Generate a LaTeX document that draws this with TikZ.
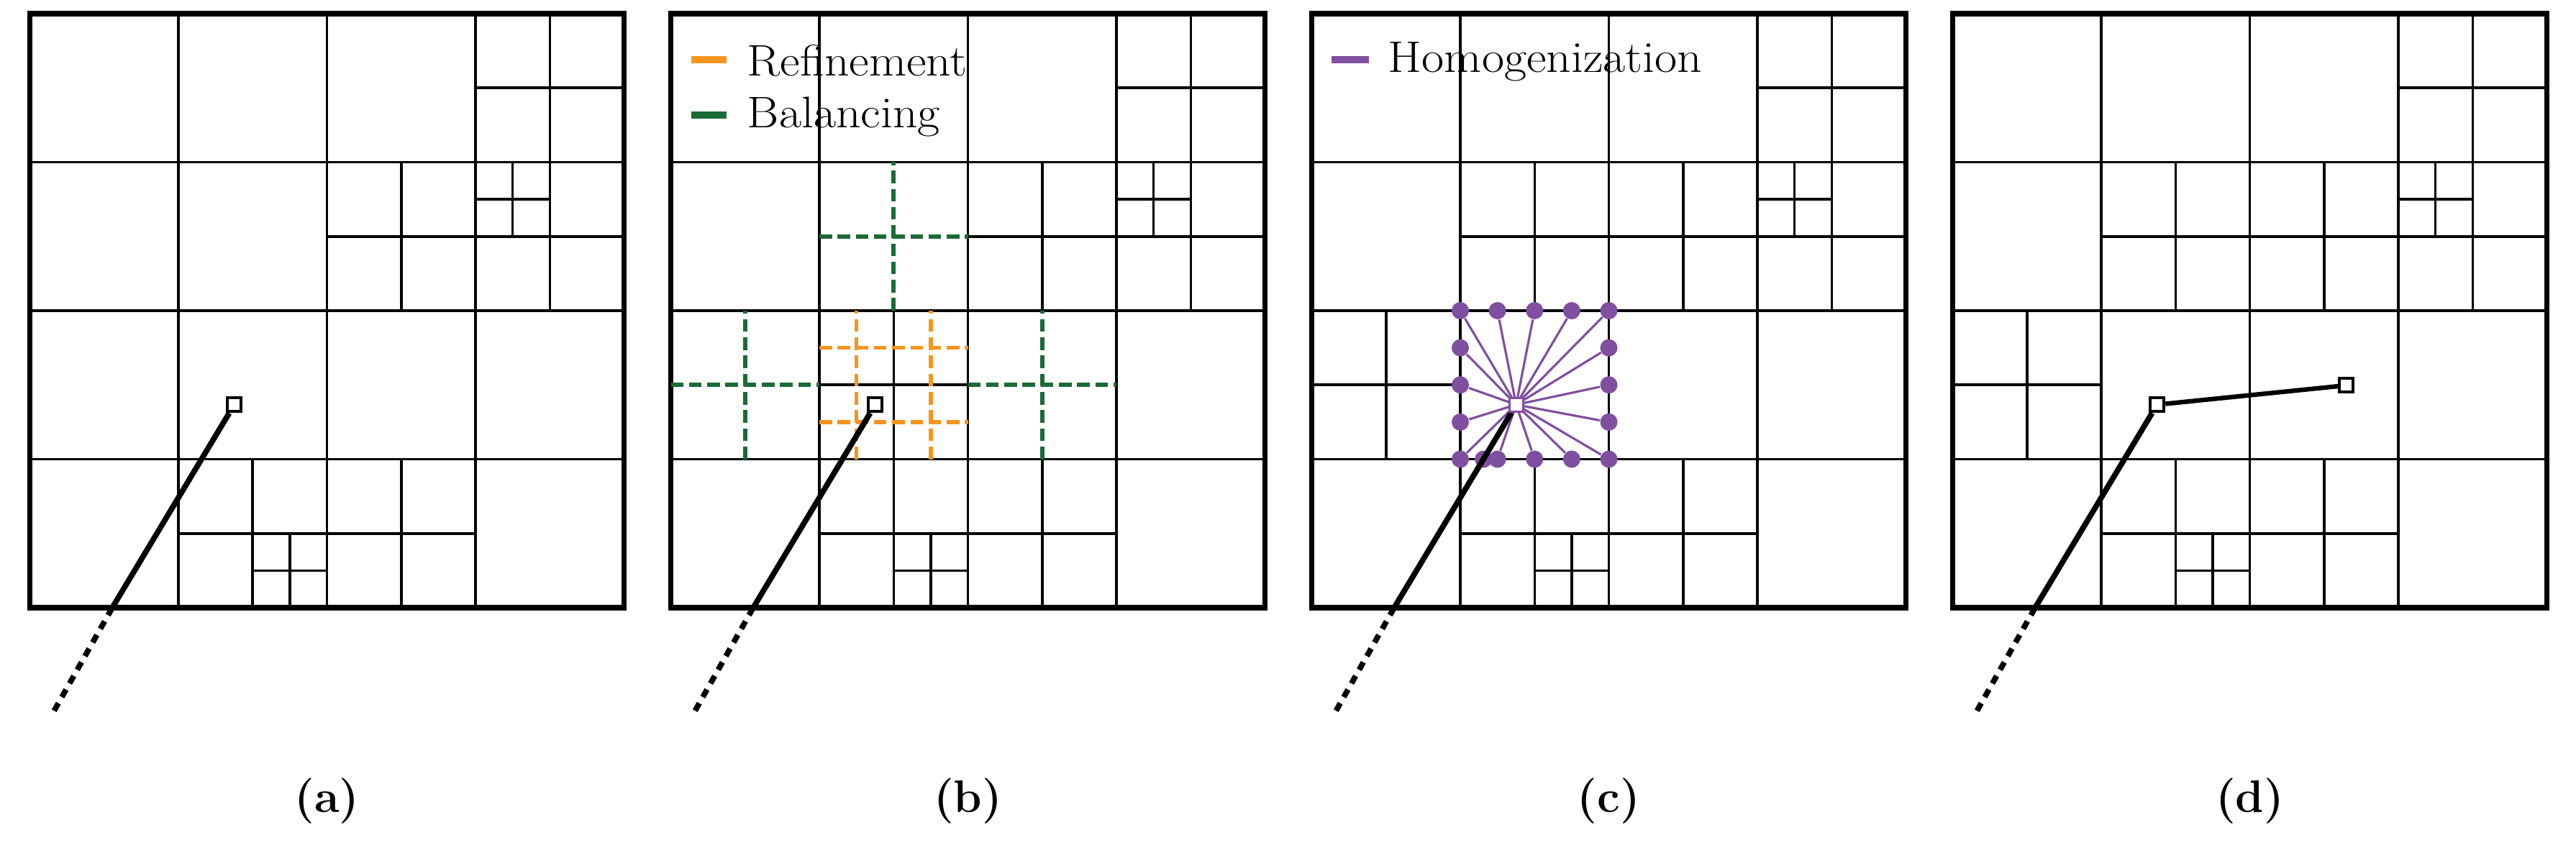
\documentclass[tikz,border=0pt]{standalone}
\usepackage{graphicx}
\definecolor{refineorange}{HTML}{F7941D}
\definecolor{balancegreen}{HTML}{1A6B35}
\definecolor{homopurple}{HTML}{7F4FA0}
\tikzset{
  mesh/.style={line width=1pt},
  frame/.style={line width=2pt},
  traj/.style={line width=2.2pt},
  trajtail/.style={line width=2.2pt, dash pattern=on 3.4pt off 2.8pt},
  particle/.style={draw, fill=white, line width=1.2pt, inner sep=0pt, minimum size=0.19cm},
  refine/.style={refineorange, line width=1.6pt, dash pattern=on 5pt off 2.2pt},
  balance/.style={balancegreen, line width=1.6pt, dash pattern=on 5pt off 2.2pt},
  homo/.style={homopurple, line width=0.9pt},
  homodot/.style={circle, fill=homopurple, inner sep=0pt, minimum size=0.24cm},
  legend/.style={font=\fontsize{17.5}{20}\selectfont, anchor=base west},
  caption/.style={font=\fontsize{18}{21}\selectfont\bfseries}
}
\newcommand{\widetext}[1]{\scalebox{1.1}[1]{#1}}
\begin{document}
\begin{tikzpicture}
  \useasboundingbox (0, 0) rectangle (35.81, 11.74);
  % mesh shared by all four panels
  \foreach \ox/\lab in {0.415/a, 9.325/b, 18.235/c, 27.145/d} {
    \begin{scope}[shift={(\ox, 3.29)}, x=2.065cm, y=2.065cm]
      \foreach \a/\b/\c/\d in {1/0/1/4, 2/0/2/4, 3/0/3/4, 0/1/4/1, 0/2/4/2, 0/3/4/3,
          3.5/3/3.5/4, 3/3.5/4/3.5, 3.5/2/3.5/3, 2/2.5/4/2.5, 2.5/2/2.5/3,
          3.25/2.5/3.25/3, 3/2.75/3.5/2.75,
          1.5/0/1.5/1, 2.5/0/2.5/1, 1/0.5/3/0.5, 1.75/0/1.75/0.5, 1.5/0.25/2/0.25} {
        \draw[mesh] (\a, \b) -- (\c, \d);
      }
      \draw[frame] (0, 0) rectangle (4, 4);
      \node[caption] (cap\lab) at (2, -1.30) {(\lab)};
    \end{scope}
  }
  % (a)
  \begin{scope}[shift={(0.415, 3.29)}, x=2.065cm, y=2.065cm]
    \coordinate (entryA) at (0.555, 0);
    \coordinate (tailA) at (0.16, -0.70);
    \node[particle] (pA) at (1.376, 1.367) {};
    \draw[traj] (pA) -- (entryA);
    \draw[trajtail] (entryA) -- (tailA);
  \end{scope}
  % (b)
  \begin{scope}[shift={(9.325, 3.29)}, x=2.065cm, y=2.065cm]
    \draw[mesh] (1.5, 1) -- (1.5, 2);
    \draw[mesh] (1, 1.5) -- (2, 1.5);
    \foreach \a/\b/\c/\d in {1.5/2/1.5/3, 1/2.5/2/2.5, 0.5/1/0.5/2, 0/1.5/1/1.5,
        2.5/1/2.5/2, 2/1.5/3/1.5} {
      \draw[balance] (\a, \b) -- (\c, \d);
    }
    \foreach \t in {1.25, 1.75} {
      \draw[refine] (\t, 1) -- (\t, 2);
      \draw[refine] (1, \t) -- (2, \t);
    }
    \coordinate (entryB) at (0.555, 0);
    \coordinate (tailB) at (0.16, -0.70);
    \node[particle] (pB) at (1.376, 1.367) {};
    \draw[traj] (pB) -- (entryB);
    \draw[trajtail] (entryB) -- (tailB);
    % legend
    \coordinate (lrA) at (0.136, 3.69);
    \coordinate (lrB) at (0.373, 3.69);
    \coordinate (lbA) at (0.136, 3.316);
    \coordinate (lbB) at (0.373, 3.316);
    \draw[refineorange, line width=2.8pt] (lrA) -- (lrB);
    \draw[balancegreen, line width=2.8pt] (lbA) -- (lbB);
    \node[legend] (lgRefine) at (0.455, 3.58) {\widetext{Refinement}};
    \node[legend] (lgBalance) at (0.455, 3.234) {\widetext{Balancing}};
  \end{scope}
  % (c)
  \begin{scope}[shift={(18.235, 3.29)}, x=2.065cm, y=2.065cm]
    \foreach \a/\b/\c/\d in {1/2.5/2/2.5, 1.5/2/1.5/3, 0.5/1/0.5/2, 0/1.5/1/1.5} {
      \draw[mesh] (\a, \b) -- (\c, \d);
    }
    \coordinate (entryC) at (0.555, 0);
    \coordinate (tailC) at (0.16, -0.70);
    \node[particle, draw=homopurple, line width=0.8pt] (pC) at (1.376, 1.367) {};
    \foreach \px/\py [count=\i] in {1/2, 1.25/2, 1.5/2, 1.75/2, 2/2,
        1/1, 1.156/1, 1.25/1, 1.5/1, 1.75/1, 2/1,
        1/1.25, 1/1.5, 1/1.75, 2/1.25, 2/1.5, 2/1.75} {
      \node[homodot] (h\i) at (\px, \py) {};
      \draw[homo] (pC.center) -- (h\i);
    }
    \draw[traj] (pC) -- (entryC);
    \draw[trajtail] (entryC) -- (tailC);
    \node[particle, draw=homopurple, line width=0.8pt] at (pC) {};
    % legend
    \coordinate (lhA) at (0.131, 3.69);
    \coordinate (lhB) at (0.383, 3.69);
    \draw[homopurple, line width=2.8pt] (lhA) -- (lhB);
    \node[legend] (lgHomo) at (0.455, 3.607) {\widetext{Homogenization}};
  \end{scope}
  % (d)
  \begin{scope}[shift={(27.145, 3.29)}, x=2.065cm, y=2.065cm]
    \foreach \a/\b/\c/\d in {1/2.5/2/2.5, 1.5/2/1.5/3, 0.5/1/0.5/2, 0/1.5/1/1.5} {
      \draw[mesh] (\a, \b) -- (\c, \d);
    }
    \coordinate (entryD) at (0.555, 0);
    \coordinate (tailD) at (0.16, -0.70);
    \node[particle] (pD) at (1.376, 1.367) {};
    \node[particle] (qD) at (2.65, 1.497) {};
    \draw[traj] (pD) -- (entryD);
    \draw[trajtail] (entryD) -- (tailD);
    \draw[line width=1.8pt] (pD) -- (qD);
  \end{scope}
\end{tikzpicture}
\end{document}
